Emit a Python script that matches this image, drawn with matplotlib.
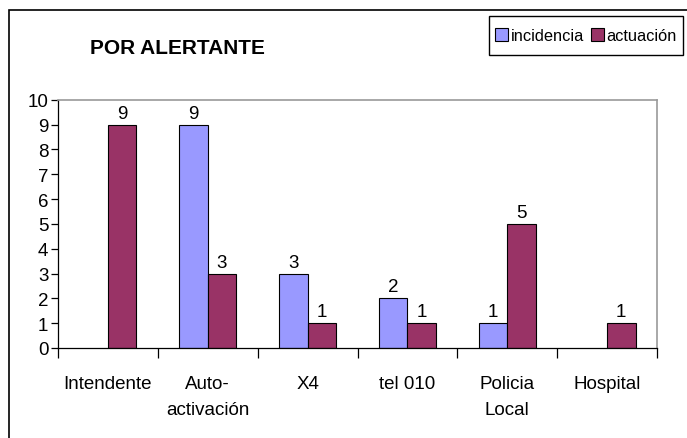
import matplotlib
matplotlib.use("Agg")
import matplotlib.pyplot as plt
from matplotlib.patches import Rectangle
import numpy as np

categories = ["Intendente", "Auto-\nactivación", "X4", "tel 010", "Policia\nLocal", "Hospital"]
incidencia = [0, 9, 3, 2, 1, 0]
actuacion = [9, 3, 1, 1, 5, 1]
series_names = ["incidencia", "actuación"]
colors = ["#9999FF", "#993366"]
yticks = list(range(0, 11))

plt.rcParams['font.family'] = ['Liberation Sans', 'DejaVu Sans']

fig = plt.figure(figsize=(6.87, 4.39), dpi=100)
fig.patch.set_facecolor("white")
fig.patches.append(Rectangle((9/687, -0.05), 1.1, 1 - 11/439 + 0.05, transform=fig.transFigure,
                             fill=False, edgecolor="black", linewidth=1.2))

ax = fig.add_axes([58/687, 1 - 349/439, (657 - 58)/687, (349 - 100.7)/439])
x = np.arange(len(categories))
w = 0.285
for vals, off, col, name in [(incidencia, -w/2, colors[0], series_names[0]),
                             (actuacion, w/2, colors[1], series_names[1])]:
    vv = [v if v > 0 else np.nan for v in vals]
    ax.bar(x + off, vv, width=w, color=col, edgecolor="black", linewidth=0.8, label=name)
    for xi, v in zip(x + off, vals):
        if v > 0:
            ax.text(xi, v + 0.12, str(v), ha="center", va="bottom", fontsize=13.5)

ax.set_xlim(-0.5, len(categories) - 0.5)
ax.set_ylim(0, 10)
ax.set_yticks(yticks)
ax.set_yticklabels([str(t) for t in yticks], fontsize=13.5)
ax.set_xticks(np.arange(-0.5, len(categories), 1.0))
ax.set_xticklabels([])
ax.set_xticks(x, minor=True)
ax.set_xticklabels(categories, minor=True, fontsize=13.5, linespacing=1.7, va="top")
ax.tick_params(axis="x", which="minor", length=0, pad=19.5)
ax.tick_params(axis="x", which="major", length=7, width=0.9, direction="out")
ax.tick_params(axis="y", length=5, width=0.9, direction="out", pad=2)
for s in ["top", "right"]:
    ax.spines[s].set_color("#999999")
    ax.spines[s].set_linewidth(1.2)
for s in ["left", "bottom"]:
    ax.spines[s].set_color("black")
    ax.spines[s].set_linewidth(0.9)

fig.text(90/687, 1 - 48/439, "POR ALERTANTE", fontsize=15, fontweight="bold", ha="left", va="center")

# legend box drawn as figure rectangle
fig.patches.append(Rectangle((489/687, 1 - 56/439), (683 - 489)/687, 39/439, transform=fig.transFigure,
                             fill=False, edgecolor="black", linewidth=1.0))
leg = fig.legend(loc="center", bbox_to_anchor=(586/687, 1 - 36.5/439), ncol=2, frameon=False,
                 fontsize=11.8, handlelength=0.8, handleheight=0.8,
                 handletextpad=0.15, columnspacing=0.45, borderpad=0, borderaxespad=0)

fig.savefig("out.png", dpi=100, facecolor="white")
